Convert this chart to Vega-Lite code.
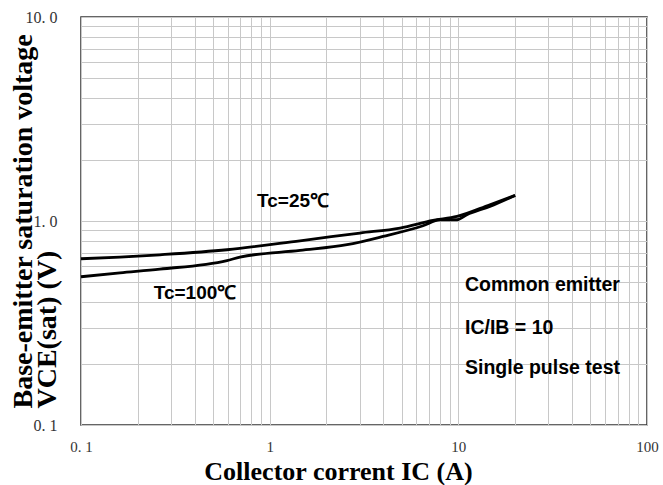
{
  "$schema": "https://vega.github.io/schema/vega-lite/v6.json",
  "width": 566,
  "height": 408,
  "autosize": {"type": "none"},
  "padding": {"left": 81, "top": 17, "right": 16, "bottom": 60},
  "background": "white",
  "config": {
    "view": {"stroke": "#333333", "strokeWidth": 1.5},
    "axis": {"gridColor": "#c8c8c8", "gridWidth": 1, "domain": false, "ticks": false}
  },
  "datasets": {
    "curves": [
      {"Ic": 0.1, "V": 0.653, "series": "Tc=25"},
      {"Ic": 0.161, "V": 0.665, "series": "Tc=25"},
      {"Ic": 0.262, "V": 0.683, "series": "Tc=25"},
      {"Ic": 0.594, "V": 0.723, "series": "Tc=25"},
      {"Ic": 1.448, "V": 0.8, "series": "Tc=25"},
      {"Ic": 3.01, "V": 0.873, "series": "Tc=25"},
      {"Ic": 4.91, "V": 0.924, "series": "Tc=25"},
      {"Ic": 7.34, "V": 1.006, "series": "Tc=25"},
      {"Ic": 9.84, "V": 1.053, "series": "Tc=25"},
      {"Ic": 14.7, "V": 1.202, "series": "Tc=25"},
      {"Ic": 20, "V": 1.335, "series": "Tc=25"},
      {"Ic": 0.1, "V": 0.533, "series": "Tc=100"},
      {"Ic": 0.161, "V": 0.557, "series": "Tc=100"},
      {"Ic": 0.262, "V": 0.581, "series": "Tc=100"},
      {"Ic": 0.594, "V": 0.64, "series": "Tc=100"},
      {"Ic": 0.696, "V": 0.665, "series": "Tc=100"},
      {"Ic": 1.448, "V": 0.717, "series": "Tc=100"},
      {"Ic": 2.57, "V": 0.765, "series": "Tc=100"},
      {"Ic": 3.99, "V": 0.84, "series": "Tc=100"},
      {"Ic": 6.5, "V": 0.948, "series": "Tc=100"},
      {"Ic": 7.99, "V": 1.014, "series": "Tc=100"},
      {"Ic": 9.84, "V": 1.014, "series": "Tc=100"},
      {"Ic": 11.1, "V": 1.073, "series": "Tc=100"},
      {"Ic": 14.7, "V": 1.179, "series": "Tc=100"},
      {"Ic": 20, "V": 1.335, "series": "Tc=100"}
    ],
    "curveLabels": [
      {"Ic": 1.33, "V": 1.247, "label": "Tc=25℃"},
      {"Ic": 0.402, "V": 0.4445, "label": "Tc=100℃"}
    ],
    "notes": [
      {"Ic": 10.85, "V": 0.4865, "label": "Common emitter"},
      {"Ic": 10.85, "V": 0.2993, "label": "IC/IB = 10"},
      {"Ic": 10.85, "V": 0.1905, "label": "Single pulse test"}
    ]
  },
  "layer": [
    {
      "data": {"name": "curves"},
      "mark": {"type": "line", "color": "#000000", "strokeWidth": 2.8, "interpolate": "monotone"},
      "encoding": {
        "x": {
          "field": "Ic", "type": "quantitative",
          "scale": {"type": "log", "domain": [0.1, 100], "nice": false},
          "axis": {
            "values": [0.1,0.2,0.3,0.4,0.5,0.6,0.7,0.8,0.9,1,2,3,4,5,6,7,8,9,10,20,30,40,50,60,70,80,90,100],
            "labelExpr": "datum.value == 0.1 ? '0. 1' : datum.value == 1 ? '1' : datum.value == 10 ? '10' : datum.value == 100 ? '100' : ''",
            "labelFont": "Liberation Serif", "labelFontSize": 15, "labelColor": "#333333",
            "labelPadding": 14, "labelOverlap": false, "labelFlush": false,
            "title": "Collector corrent IC (A)",
            "titleFont": "Liberation Serif", "titleFontSize": 26, "titleFontWeight": "bold", "titleColor": "#000000",
            "titleBaseline": "alphabetic", "titleX": 257, "titleY": 54
          }
        },
        "y": {
          "field": "V", "type": "quantitative",
          "scale": {"type": "log", "domain": [0.1, 10], "nice": false},
          "axis": {
            "values": [0.1,0.2,0.3,0.4,0.5,0.6,0.7,0.8,0.9,1,2,3,4,5,6,7,8,9,10],
            "labelExpr": "datum.value == 0.1 ? '0. 1' : datum.value == 1 ? '1. 0' : datum.value == 10 ? '10. 0' : ''",
            "labelFont": "Liberation Serif", "labelFontSize": 16, "labelColor": "#333333",
            "labelPadding": 24, "labelOverlap": false, "labelFlush": false,
            "title": ["Base-emitter saturation voltage", "VCE(sat) (V)"],
            "titleFont": "Liberation Serif", "titleFontSize": 28, "titleFontWeight": "bold", "titleColor": "#000000",
            "titleAngle": -90, "titleAlign": "left", "titleBaseline": "top", "titleLineHeight": 24,
            "titleX": -72, "titleY": 391
          }
        },
        "detail": {"field": "series"}
      }
    },
    {
      "data": {"name": "curveLabels"},
      "mark": {"type": "text", "font": "Liberation Sans", "fontSize": 19, "fontWeight": "bold", "color": "#000000", "align": "center", "baseline": "middle"},
      "encoding": {
        "x": {"field": "Ic", "type": "quantitative"},
        "y": {"field": "V", "type": "quantitative"},
        "text": {"field": "label"}
      }
    },
    {
      "data": {"name": "notes"},
      "mark": {"type": "text", "font": "Liberation Sans", "fontSize": 19.5, "fontWeight": "bold", "color": "#000000", "align": "left", "baseline": "middle"},
      "encoding": {
        "x": {"field": "Ic", "type": "quantitative"},
        "y": {"field": "V", "type": "quantitative"},
        "text": {"field": "label"}
      }
    }
  ]
}
